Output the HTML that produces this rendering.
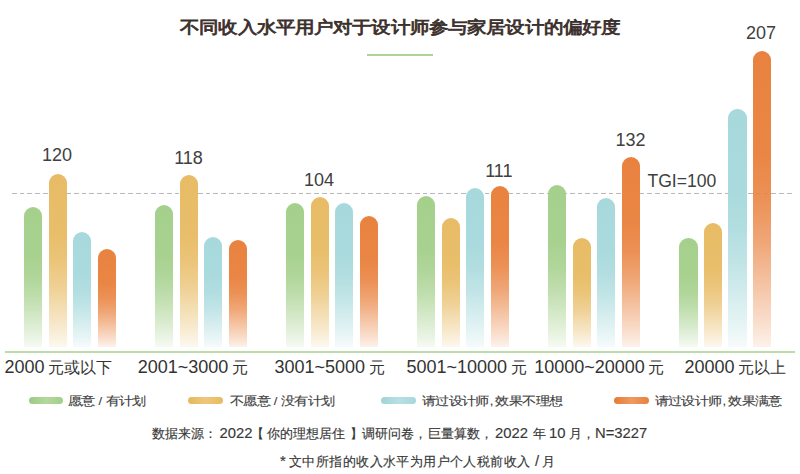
<!DOCTYPE html>
<html><head><meta charset="utf-8">
<style>
html,body{margin:0;padding:0;background:#fff;}
body{width:800px;height:474px;position:relative;overflow:hidden;font-family:"Liberation Sans",sans-serif;color:#383838;}
.t{position:absolute;white-space:nowrap;line-height:1;}
.title{font-size:19.2px;letter-spacing:0.13px;color:#3b2f2c;-webkit-text-stroke:0.9px #3b2f2c;transform:scaleY(0.87);transform-origin:0 0;}
.uline{position:absolute;left:367px;top:53.5px;width:66px;height:2px;background:#b0d496;}
.dash{position:absolute;left:11.5px;top:193px;width:781px;height:1px;
  background:repeating-linear-gradient(to right,#b8b8b8 0,#b8b8b8 4.6px,transparent 4.6px,transparent 7.75px);}
.bar{position:absolute;width:18.3px;border-radius:9.15px 9.15px 0 0;}
.b0{background:linear-gradient(to bottom,rgba(165,208,140,1) 0%,rgba(165,208,140,0.97) 35%,rgba(165,208,140,0.88) 50%,rgba(165,208,140,0.7) 65%,rgba(165,208,140,0.46) 80%,rgba(165,208,140,0.26) 92%,rgba(165,208,140,0.1) 100%);}
.b1{background:linear-gradient(to bottom,rgba(232,188,102,1) 0%,rgba(232,188,102,0.97) 35%,rgba(232,188,102,0.88) 50%,rgba(232,188,102,0.7) 65%,rgba(232,188,102,0.46) 80%,rgba(232,188,102,0.26) 92%,rgba(232,188,102,0.1) 100%);}
.b2{background:linear-gradient(to bottom,rgba(167,217,220,1) 0%,rgba(167,217,220,0.97) 35%,rgba(167,217,220,0.88) 50%,rgba(167,217,220,0.7) 65%,rgba(167,217,220,0.46) 80%,rgba(167,217,220,0.26) 92%,rgba(167,217,220,0.1) 100%);}
.b3{background:linear-gradient(to bottom,rgba(233,130,63,1) 0%,rgba(233,130,63,0.97) 35%,rgba(233,130,63,0.88) 50%,rgba(233,130,63,0.7) 65%,rgba(233,130,63,0.46) 80%,rgba(233,130,63,0.26) 92%,rgba(233,130,63,0.1) 100%);}

.axis{position:absolute;left:5px;top:350.5px;width:790px;height:2px;background:#bddcab;}
.val{font-size:18px;color:#404040;}
.cat{font-size:18px;color:#333;}
.sw{position:absolute;top:397px;width:34.5px;height:7px;border-radius:3.5px;}
.leg{font-size:13px;color:#404040;transform:scaleY(0.85);transform-origin:0 0;-webkit-text-stroke:0.15px #404040;}
.foot{font-size:14.8px;color:#383838;-webkit-text-stroke:0.15px #383838;}
</style></head><body>
<div class="uline"></div>
<div class="dash"></div>
<div class="bar b0" style="left:24.00px;top:206.8px;height:140.2px"></div>
<div class="bar b1" style="left:48.50px;top:174.3px;height:172.7px"></div>
<div class="bar b2" style="left:73.00px;top:231.7px;height:115.3px"></div>
<div class="bar b3" style="left:97.50px;top:248.6px;height:98.4px"></div>
<div class="bar b0" style="left:155.05px;top:205.3px;height:141.7px"></div>
<div class="bar b1" style="left:179.55px;top:175.0px;height:172.0px"></div>
<div class="bar b2" style="left:204.05px;top:236.7px;height:110.3px"></div>
<div class="bar b3" style="left:228.55px;top:240.0px;height:107.0px"></div>
<div class="bar b0" style="left:286.10px;top:202.8px;height:144.2px"></div>
<div class="bar b1" style="left:310.60px;top:196.9px;height:150.1px"></div>
<div class="bar b2" style="left:335.10px;top:202.8px;height:144.2px"></div>
<div class="bar b3" style="left:359.60px;top:215.9px;height:131.1px"></div>
<div class="bar b0" style="left:417.15px;top:196.4px;height:150.6px"></div>
<div class="bar b1" style="left:441.65px;top:218.1px;height:128.9px"></div>
<div class="bar b2" style="left:466.15px;top:187.5px;height:159.5px"></div>
<div class="bar b3" style="left:490.65px;top:185.8px;height:161.2px"></div>
<div class="bar b0" style="left:548.20px;top:185.2px;height:161.8px"></div>
<div class="bar b1" style="left:572.70px;top:237.8px;height:109.2px"></div>
<div class="bar b2" style="left:597.20px;top:197.5px;height:149.5px"></div>
<div class="bar b3" style="left:621.70px;top:157.0px;height:190.0px"></div>
<div class="bar b0" style="left:679.25px;top:238.0px;height:109.0px"></div>
<div class="bar b1" style="left:703.75px;top:223.3px;height:123.7px"></div>
<div class="bar b2" style="left:728.25px;top:109.4px;height:237.6px"></div>
<div class="bar b3" style="left:752.75px;top:50.6px;height:296.4px"></div>
<div class="axis"></div>
<div class="sw" style="left:28.5px;background:linear-gradient(to right,#9ccb82,#b3d89d,#a3cf8b)"></div>
<div class="sw" style="left:188px;background:linear-gradient(to right,#e5b85e,#eec77d,#e6bb63)"></div>
<div class="sw" style="left:381px;background:linear-gradient(to right,#9fd4d7,#b8e0e2,#a5d8db)"></div>
<div class="sw" style="left:614px;background:linear-gradient(to right,#e57b36,#ef9a62,#e8803d)"></div>
<div id="title" class="t title" style="left:180.20px;top:18.80px">不同收入水平用户对于设计师参与家居设计的偏好度</div>
<div id="v120" class="t val" style="left:42.10px;top:146.40px">120</div>
<div id="v118" class="t val" style="left:174.20px;top:148.60px">118</div>
<div id="v104" class="t val" style="left:304.00px;top:171.00px">104</div>
<div id="v111" class="t val" style="left:485.20px;top:162.30px">111</div>
<div id="v132" class="t val" style="left:615.60px;top:130.90px">132</div>
<div id="v207" class="t val" style="left:746.00px;top:24.30px">207</div>
<div id="tgi" class="t val" style="left:647.40px;top:172.30px"><span style="font-size:17.6px">TGI=100</span></div>
<div id="c1" class="t cat" style="left:4.50px;top:358.00px">2000 <span style="font-size:16px;letter-spacing:0px;margin-left:-1.5px">元或以下</span></div>
<div id="c2" class="t cat" style="left:137.70px;top:358.00px">2001~3000 <span style="font-size:16px;letter-spacing:0px;margin-left:-1.5px">元</span></div>
<div id="c3" class="t cat" style="left:274.50px;top:358.00px">3001~5000 <span style="font-size:16px;letter-spacing:0px;margin-left:-1.5px">元</span></div>
<div id="c4" class="t cat" style="left:406.40px;top:358.00px">5001~10000 <span style="font-size:16px;letter-spacing:0px;margin-left:-1.5px">元</span></div>
<div id="c5" class="t cat" style="left:534.20px;top:358.00px">10000~20000 <span style="font-size:16px;letter-spacing:0px;margin-left:-1.5px">元</span></div>
<div id="c6" class="t cat" style="left:684.50px;top:358.00px">20000 <span style="font-size:16px;letter-spacing:0px;margin-left:-1.5px">元以上</span></div>
<div id="l1" class="t leg" style="left:68.00px;top:394.90px"><span style="font-size:14px;letter-spacing:-0.6px;margin-left:0px">愿意</span> / <span style="font-size:14px;letter-spacing:-0.6px;margin-left:0px">有计划</span></div>
<div id="l2" class="t leg" style="left:229.90px;top:394.90px"><span style="font-size:14px;letter-spacing:-0.6px;margin-left:0px">不愿意</span> / <span style="font-size:14px;letter-spacing:-0.6px;margin-left:0px">没有计划</span></div>
<div id="l3" class="t leg" style="left:421.80px;top:394.90px"><span style="font-size:14px;letter-spacing:-0.6px;margin-left:0px">请过设计师</span><span style="margin:0 2px 0 1px">,</span><span style="font-size:14px;letter-spacing:-0.6px;margin-left:0px">效果不理想</span></div>
<div id="l4" class="t leg" style="left:654.50px;top:394.90px"><span style="font-size:14px;letter-spacing:-0.6px;margin-left:0px">请过设计师</span><span style="margin:0 2px 0 1px">,</span><span style="font-size:14px;letter-spacing:-0.6px;margin-left:0px">效果满意</span></div>
<div id="f1a" class="t foot" style="left:152.40px;top:425.50px"><span style="font-size:13.4px">数据来源：</span></div>
<div id="f1b" class="t foot" style="left:219.50px;top:425.50px">2022</div>
<div id="f1c" class="t foot" style="left:251.00px;top:425.50px"><span style="font-size:13.4px">【</span></div>
<div id="f1d" class="t foot" style="left:267.00px;top:425.50px"><span style="font-size:13.4px">你的理想居住</span></div>
<div id="f1e" class="t foot" style="left:350.00px;top:425.50px"><span style="font-size:13.4px">】</span></div>
<div id="f1f" class="t foot" style="left:362.00px;top:425.50px"><span style="font-size:13.4px">调研问卷，</span></div>
<div id="f1g" class="t foot" style="left:427.50px;top:425.50px"><span style="font-size:13.4px">巨量算数，</span></div>
<div id="f1h" class="t foot" style="left:495.00px;top:425.50px">2022</div>
<div id="f1i" class="t foot" style="left:532.50px;top:425.50px"><span style="font-size:13.4px">年</span></div>
<div id="f1j" class="t foot" style="left:549.00px;top:425.50px">10</div>
<div id="f1k" class="t foot" style="left:569.00px;top:425.50px"><span style="font-size:13.4px">月，</span></div>
<div id="f1l" class="t foot" style="left:595.00px;top:425.50px">N=3227</div>
<div id="f2a" class="t foot" style="left:280.00px;top:454.00px">*</div>
<div id="f2b" class="t foot" style="left:289.00px;top:454.00px"><span style="font-size:13px;letter-spacing:0.42px;margin-left:0px">文中所指的收入水平为用户个人税前收入</span></div>
<div id="f2c" class="t foot" style="left:535.00px;top:454.00px">/</div>
<div id="f2d" class="t foot" style="left:542.00px;top:454.00px"><span style="font-size:13.1px">月</span></div>
</body></html>
